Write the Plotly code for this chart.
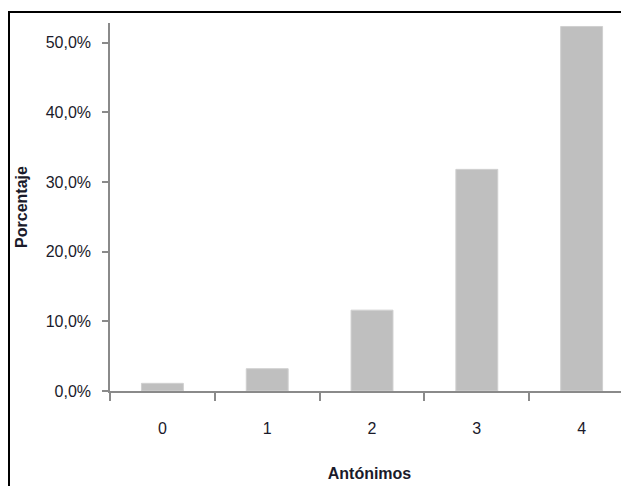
import plotly.graph_objects as go

categories = ["0", "1", "2", "3", "4"]
values = [0.011, 0.032, 0.116, 0.318, 0.523]
y_tick_vals = [0.0, 0.1, 0.2, 0.3, 0.4, 0.5]

# page body has an 8px default margin, so the figure is offset by 8px
OFF = 8
W, H = 629 - OFF, 486 - OFF
L, R, T = 110 - OFF, 0, 23 - OFF
B = H - (391 - OFF)

def px_to_paper(x, y):
    # x, y in window pixels
    x -= OFF
    y -= OFF
    return (x - L) / (W - L - R), (H - B - y) / (H - T - B)

fig = go.Figure(go.Bar(
    x=categories, y=values,
    marker=dict(color="#BFBFBF", line=dict(color="#D0D0D0", width=1)),
    width=0.4,
))

x0, y0 = px_to_paper(9, 12)
x1, y1 = px_to_paper(660, 520)

fig.update_layout(
    width=W, height=H,
    margin=dict(l=L, r=R, t=T, b=B, pad=0),
    paper_bgcolor="white", plot_bgcolor="white",
    separators=",.",
    font=dict(family="Liberation Sans", size=16, color="#1a1a2a"),
    showlegend=False,
    xaxis=dict(
        type="category", range=[-0.5, 4.452],
        showline=True, linecolor="#8a8a8a", linewidth=1.5,
        ticks="outside", tickson="boundaries", ticklen=8, tickcolor="#8a8a8a", tickwidth=1.5,
        ticklabelstandoff=22,
        title=dict(text="<b>Antónimos</b>", standoff=32, font=dict(size=16)),
        showgrid=False,
    ),
    yaxis=dict(
        range=[0, 0.528], tickvals=y_tick_vals, tickformat=".1%",
        showline=True, linecolor="#8a8a8a", linewidth=1.5,
        ticks="outside", ticklen=6, tickcolor="#8a8a8a", tickwidth=1.5,
        ticklabelstandoff=8,
        showgrid=False, zeroline=False,
        title=dict(text="<b>Porcentaje</b>", standoff=14, font=dict(size=16)),
    ),
    shapes=[dict(type="rect", xref="paper", yref="paper", x0=x0, y0=y0, x1=x1, y1=y1,
                 line=dict(color="black", width=2), fillcolor="rgba(0,0,0,0)", layer="above")],
)

fig.write_html("out.html")
